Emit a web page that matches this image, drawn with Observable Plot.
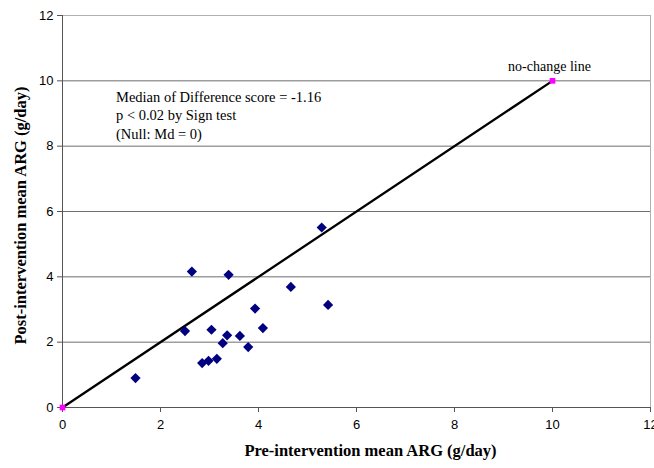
<!DOCTYPE html>
<html>
<head>
<meta charset="utf-8">
<script src="https://cdn.jsdelivr.net/npm/d3@7"></script>
<script src="https://cdn.jsdelivr.net/npm/@observablehq/plot@0.6"></script>
<style>
  html, body { margin: 0; padding: 0; background: #ffffff; }
  #chart { width: 654px; height: 468px; }
</style>
</head>
<body>
<div id="chart"></div>
<script>
// Pre-intervention (x) and post-intervention (y) mean ARG, g/day
const preARG  = [1.49, 2.50, 2.64, 2.85, 2.98, 3.04, 3.15, 3.27, 3.36, 3.39, 3.62, 3.79, 3.93, 4.09, 4.66, 5.29, 5.42];
const postARG = [0.90, 2.34, 4.16, 1.36, 1.43, 2.38, 1.49, 1.97, 2.21, 4.06, 2.19, 1.85, 3.03, 2.43, 3.69, 5.51, 3.14];
const lineX = [0, 10];
const lineY = [0, 10];
const ticks = [0, 2, 4, 6, 8, 10, 12];
const gridY = [2, 4, 6, 8, 10];
const noteLines = ["Median of Difference score = -1.16", "p < 0.02 by Sign test", "(Null: Md = 0)"];
const xTitle = "Pre-intervention mean ARG (g/day)";
const yTitle = "Post-intervention mean ARG (g/day)";
const lineLabel = "no-change line";

const points = preARG.map((x, i) => ({x, y: postARG[i]}));
const noChange = lineX.map((x, i) => ({x, y: lineY[i]}));

const serif = "'Liberation Serif', 'DejaVu Serif', serif";

const chart = Plot.plot({
  width: 654,
  height: 468,
  marginLeft: 62,
  marginRight: 4,
  marginTop: 15,
  marginBottom: 61,
  style: {fontFamily: "'Liberation Sans', Arial, sans-serif", fontSize: "13px", background: "#ffffff", color: "#000"},
  x: {domain: [0, 12], ticks: ticks, label: null},
  y: {domain: [0, 12], ticks: ticks, label: null},
  marks: [
    Plot.frame({stroke: "#b0b0b0"}),
    Plot.ruleY(gridY, {stroke: "#6e6e6e", strokeWidth: 1}),
    Plot.axisX({ticks: ticks, tickSize: 5, tickPadding: 7, stroke: "#555", fontSize: 13, label: null}),
    Plot.axisY({ticks: ticks, tickSize: 5, tickPadding: 4, stroke: "#555", fontSize: 13, label: null}),
    Plot.ruleX([0], {stroke: "#555"}),
    Plot.ruleY([0], {stroke: "#555"}),
    Plot.line(noChange, {x: "x", y: "y", stroke: "#000", strokeWidth: 2.3}),
    Plot.dot(noChange, {x: "x", y: "y", symbol: "square", r: 3.2, fill: "#ff00ff", stroke: "none"}),
    Plot.dot(points, {x: "x", y: "y", symbol: "diamond2", r: 4.6, fill: "#000080", stroke: "none"}),
    Plot.text([lineLabel], {x: 10, y: 10, dx: -3, dy: -14, text: d => d, textAnchor: "middle", fontFamily: serif, fontSize: 14, fill: "#000"}),
    Plot.text([noteLines.join("\n")], {x: 0, y: 10, dx: 53.5, dy: 33.5, text: d => d, textAnchor: "start", lineAnchor: "middle", lineHeight: 1.3, fontFamily: serif, fontSize: 14.5, fill: "#000"}),
    Plot.text([xTitle], {frameAnchor: "bottom", dx: 14, dy: 48, text: d => d, textAnchor: "middle", fontFamily: serif, fontWeight: "bold", fontSize: 16.5, fill: "#000"}),
    Plot.text([yTitle], {frameAnchor: "left", dx: -42, dy: 4, rotate: -90, text: d => d, textAnchor: "middle", fontFamily: serif, fontWeight: "bold", fontSize: 16.5, fill: "#000"})
  ]
});
document.getElementById("chart").appendChild(chart);
</script>
</body>
</html>
